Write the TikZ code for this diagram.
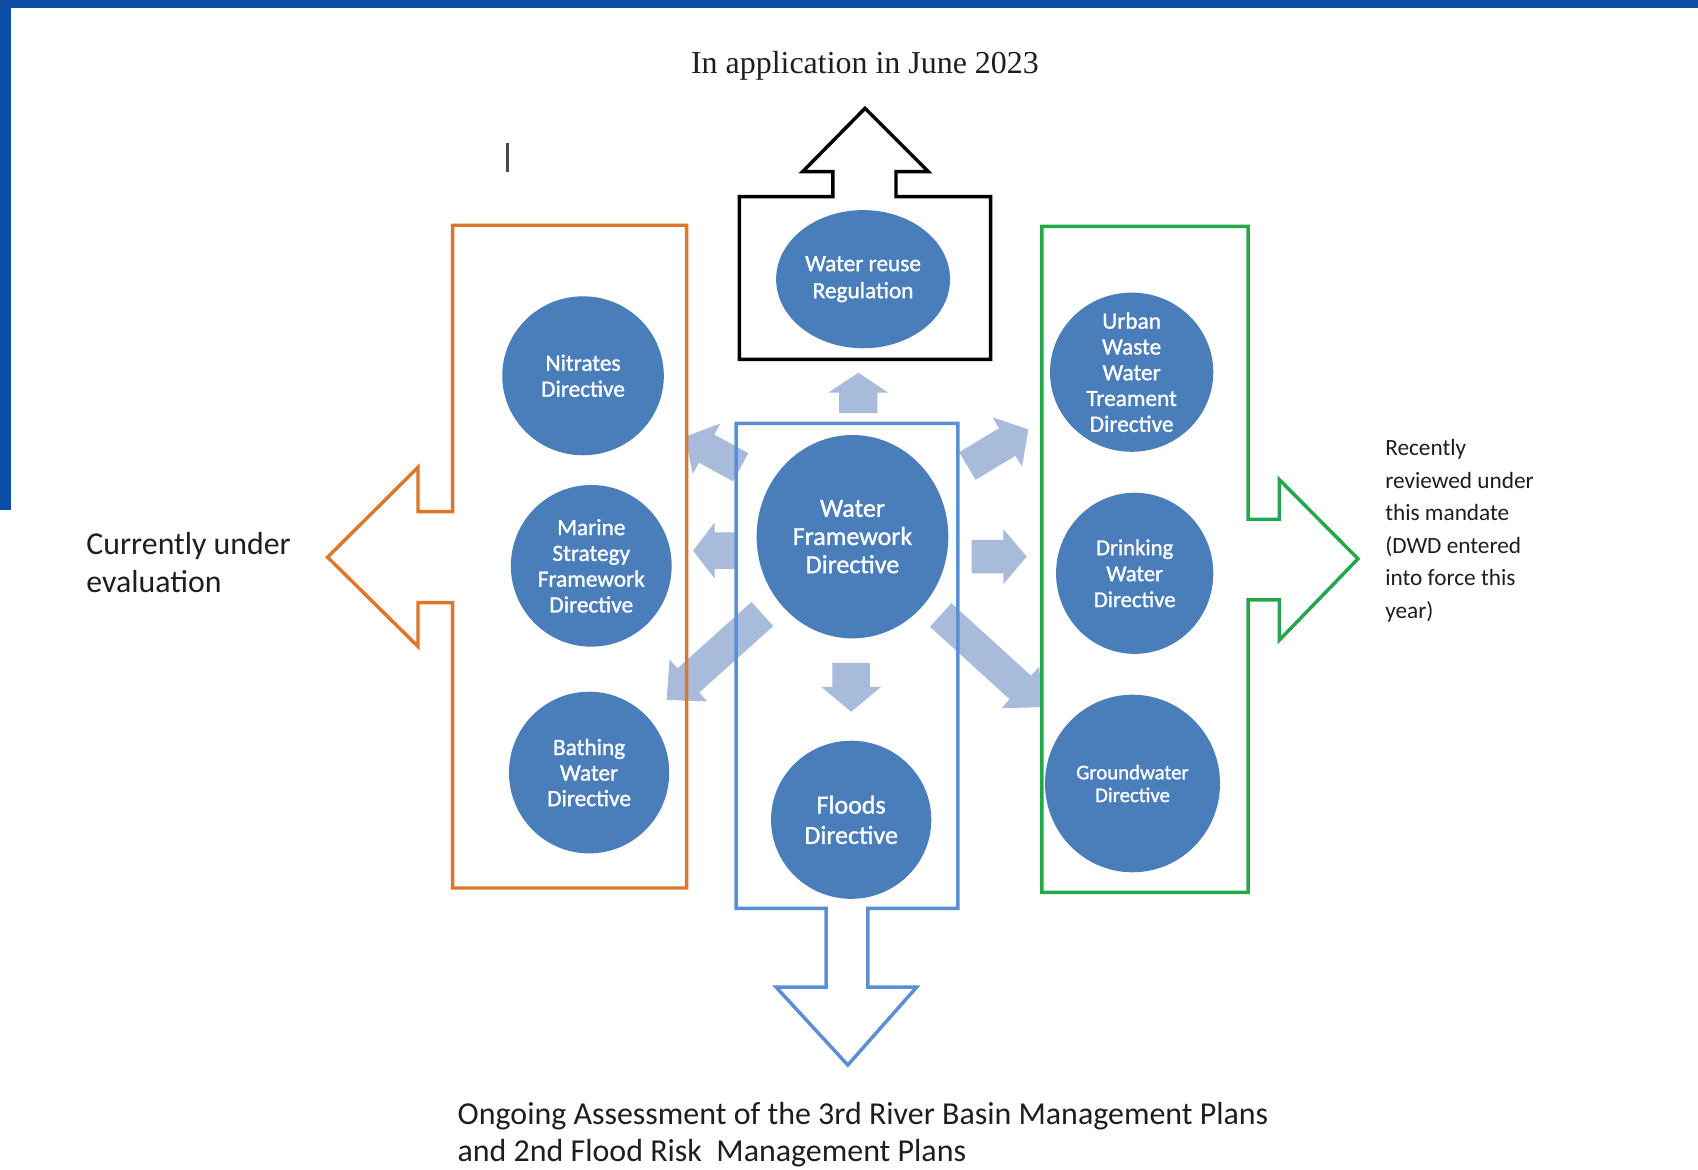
\documentclass[tikz,border=0pt]{standalone}
\usepackage{fontspec}
\setmainfont{Carlito}
\newfontfamily\titlefont{Liberation Serif}
\newfontfamily\discfont[BoldFont=Carlito, BoldFeatures={FakeBold=1.2}]{Carlito}
\usetikzlibrary{shapes.geometric}

\definecolor{frameblue}{HTML}{0B4DA2}
\definecolor{discfill}{HTML}{4A7EBB}
\definecolor{flowblue}{HTML}{A9BBDA}
\definecolor{evalorange}{HTML}{E0762A}
\definecolor{reviewgreen}{HTML}{22A84A}
\definecolor{wfdblue}{HTML}{5B8FD3}
\definecolor{inkgrey}{HTML}{1E1E1E}

% block arrow: tail x, tail y, rotation, length, shaft width, head width, head length
\newcommand\fatarrow[7]{%
  \fill[flowblue, shift={(#1,#2)}, rotate=#3]
    (0,-#5/2) -- (#4-#7,-#5/2) -- (#4-#7,-#6/2) -- (#4,0)
    -- (#4-#7,#6/2) -- (#4-#7,#5/2) -- (0,#5/2) -- cycle;}

\tikzset{
  outline/.style={line width=3.2pt, line join=miter},
  disc/.style={ellipse, fill=discfill, draw=none, inner sep=0pt},
  disctext/.style={text=white, align=center, inner sep=0pt},
  fs/.style 2 args={font=\fontsize{#1}{#2}\selectfont},
  dfs/.style 2 args={font=\discfont\bfseries\fontsize{#1}{#2}\selectfont},
  note/.style={inner sep=0pt, align=left, text=inkgrey},
}

\begin{document}
\begin{tikzpicture}[x=1pt, y=-1pt]
\useasboundingbox (0,0) rectangle (1568,1080);
\fill[white] (0,0) rectangle (1568,1080);

% slide frame
\fill[frameblue] (0,0) rectangle (1568,7.3);
\fill[frameblue] (0,0) rectangle (10.5,471);

% text cursor mark
\draw[inkgrey!80, line width=2.2pt] (468.7,132) -- (468.7,159);

% light arrows radiating from the Water Framework Directive
\fatarrow{792.6}{381.5}{90}{37.3}{35.4}{55.4}{18.4}
\fatarrow{786}{612}{-90}{45.2}{34.5}{55.4}{23}
\fatarrow{679}{508.5}{180}{39}{33.8}{52}{20}
\fatarrow{897.3}{514}{0}{50.8}{30.8}{50.8}{21.6}
\fatarrow{684}{431.5}{151.3}{58.6}{29.6}{53}{22.7}
\fatarrow{893.3}{430.3}{31}{65.7}{29.6}{53}{22.7}
\fatarrow{704}{567}{-138.1}{118.8}{30}{52}{27}
\fatarrow{868.7}{567.9}{-42.3}{126.4}{29.4}{52}{27}

% group outlines with their block arrows
\draw[outline, draw=evalorange]
  (418,208) -- (634,208) -- (634,820) -- (418,820) -- (418,556.5)
  -- (386,556.5) -- (386,597) -- (302.5,514.5) -- (386,431.5)
  -- (386,472.5) -- (418,472.5) -- cycle;
\draw[outline, draw=reviewgreen]
  (962,209) -- (1152.5,209) -- (1152.5,479.5) -- (1181.5,479.5)
  -- (1181.5,443) -- (1254,516) -- (1181.5,591) -- (1181.5,554)
  -- (1152.5,554) -- (1152.5,824) -- (962,824) -- cycle;
\draw[outline, draw=black]
  (682.7,181.6) -- (769,181.6) -- (769,158.5) -- (741.2,158.5)
  -- (798.8,100) -- (857.3,158.5) -- (827.4,158.5) -- (827.4,181.6)
  -- (914.8,181.6) -- (914.8,331.8) -- (682.7,331.8) -- cycle;
\draw[outline, draw=wfdblue]
  (679.7,391) -- (884.5,391) -- (884.5,838.8) -- (801.4,838.8)
  -- (801.4,911.5) -- (846.5,911.5) -- (782.9,983.5) -- (716.6,911.5)
  -- (762.8,911.5) -- (762.8,838.8) -- (679.7,838.8) -- cycle;

% directives
\node[disc, minimum width=160.6, minimum height=127.6] (wrr) at (797,257.8) {};
\node[disctext, dfs={21.5}{25}] (wrr-t) at (wrr) {Water reuse\\Regulation};

\node[disc, minimum width=149.2, minimum height=146.8] (nd) at (538.4,347) {};
\node[disctext, dfs={21.5}{24}] (nd-t) at (nd) {Nitrates\\Directive};

\node[disc, minimum width=148.5, minimum height=149.3] (msfd) at (546,522.5) {};
\node[disctext, dfs={21.5}{23.8}] (msfd-t) at (msfd) {Marine\\Strategy\\Framework\\Directive};

\node[disc, minimum width=148, minimum height=149.3] (bwd) at (544,713.4) {};
\node[disctext, dfs={21.5}{23.6}] (bwd-t) at (bwd) {Bathing\\Water\\Directive};

\node[disc, minimum width=177, minimum height=187.8] (wfd) at (787.2,495.6) {};
\node[disctext, dfs={24}{26}] (wfd-t) at (wfd) {Water\\Framework\\Directive};

\node[disc, minimum width=148, minimum height=146] (fd) at (786,757) {};
\node[disctext, dfs={24}{28}] (fd-t) at (fd) {Floods\\Directive};

\node[disc, minimum width=150.8, minimum height=147] (uwwtd) at (1045,343.7) {};
\node[disctext, dfs={21.5}{23.8}] (uwwtd-t) at (uwwtd) {Urban\\Waste\\Water\\Treament\\Directive};

\node[disc, minimum width=145.2, minimum height=148.8] (dwd) at (1047.8,529.4) {};
\node[disctext, dfs={21}{24}] (dwd-t) at (dwd) {Drinking\\Water\\Directive};

\node[disc, minimum width=161.6, minimum height=164] (gwd) at (1045.8,723.5) {};
\node[disctext, dfs={19.2}{21}] (gwd-t) at (gwd) {Groundwater\\Directive};

% captions (base anchor sits on the last line)
\node[inner sep=0pt, anchor=base, text=inkgrey, font=\titlefont\fontsize{29.5}{34}\selectfont]
  (title) at (798.7,67.7) {In application in June 2023};
\node[note, anchor=base west, fs={29.4}{35.5}] (evalnote) at (79.6,547.5)
  {Currently under\\evaluation};
\node[note, anchor=base west, fs={21.5}{30}] (reviewnote) at (1279,571)
  {Recently\\reviewed under\\this mandate\\(DWD entered\\into force this\\year)};
\node[note, anchor=base west, fs={29.5}{35}] (assessnote) at (422.4,1073)
  {Ongoing Assessment of the 3rd River Basin Management Plans\\and 2nd Flood Risk~ Management Plans};
\end{tikzpicture}
\end{document}
